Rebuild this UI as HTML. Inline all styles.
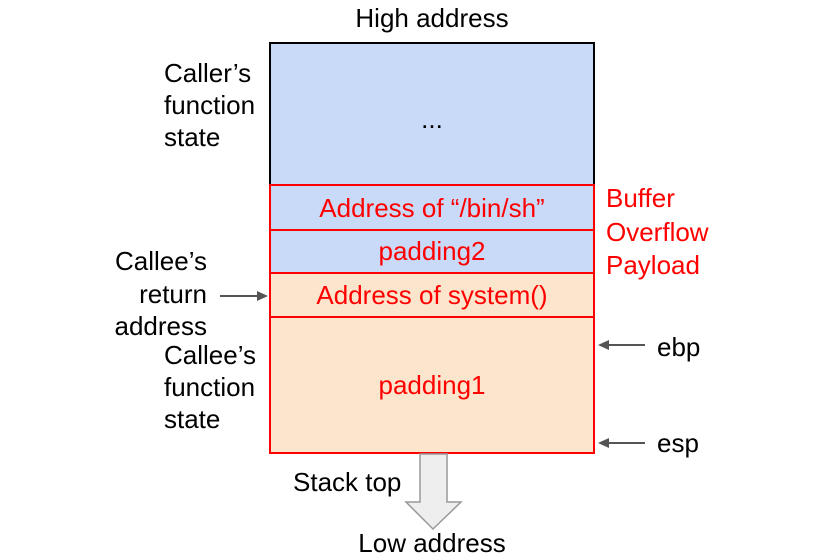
<html><body style="margin:0;background:#fff">
<svg width="813" height="559" xmlns="http://www.w3.org/2000/svg" font-family="Liberation Sans, Arial, sans-serif" font-size="26">
<rect x="270" y="43" width="324" height="142" fill="#c9daf8" stroke="#000" stroke-width="2"/>
<rect x="270" y="185" width="324" height="88" fill="#c9daf8"/>
<rect x="270" y="273" width="324" height="180" fill="#fce5cd"/>
<g fill="none" stroke="#f00" stroke-width="2">
<rect x="270" y="185" width="324" height="268"/>
<line x1="270" y1="230" x2="594" y2="230"/><line x1="270" y1="273" x2="594" y2="273"/><line x1="270" y1="317" x2="594" y2="317"/>
</g>
<g fill="#f00" text-anchor="middle">
<text x="432" y="217">Address of “/bin/sh”</text>
<text x="432" y="260">padding2</text>
<text x="432" y="304">Address of system()</text>
<text x="432" y="394">padding1</text>
</g>
<g fill="#f00"><text x="606" y="207">Buffer</text><text x="606" y="241">Overflow</text><text x="606" y="274">Payload</text></g>
<g fill="#000">
<text x="432" y="27" text-anchor="middle">High address</text>
<text x="432" y="128" text-anchor="middle">...</text>
<text x="164" y="82">Caller’s</text><text x="164" y="114">function</text><text x="164" y="146">state</text>
<text x="207" y="270" text-anchor="end">Callee’s</text><text x="207" y="303" text-anchor="end">return</text><text x="207" y="335" text-anchor="end">address</text>
<text x="164" y="364">Callee’s</text><text x="164" y="396">function</text><text x="164" y="428">state</text>
<text x="657" y="356">ebp</text><text x="657" y="452">esp</text>
<text x="293" y="491">Stack top</text>
<text x="432" y="552" text-anchor="middle">Low address</text>
</g>
<g stroke="#555" stroke-width="2" fill="#555">
<line x1="220" y1="296" x2="258" y2="296"/><polygon points="268,296 257,291 257,301" stroke="none"/>
<line x1="645" y1="345" x2="608" y2="345"/><polygon points="598,345 609,340 609,350" stroke="none"/>
<line x1="645" y1="443" x2="608" y2="443"/><polygon points="598,443 609,438 609,448" stroke="none"/>
</g>
<polygon points="420,454 447,454 447,502 461,502 433,529 406,502 420,502" fill="#eee" stroke="#999" stroke-width="1.5"/>
</svg>
</body></html>
